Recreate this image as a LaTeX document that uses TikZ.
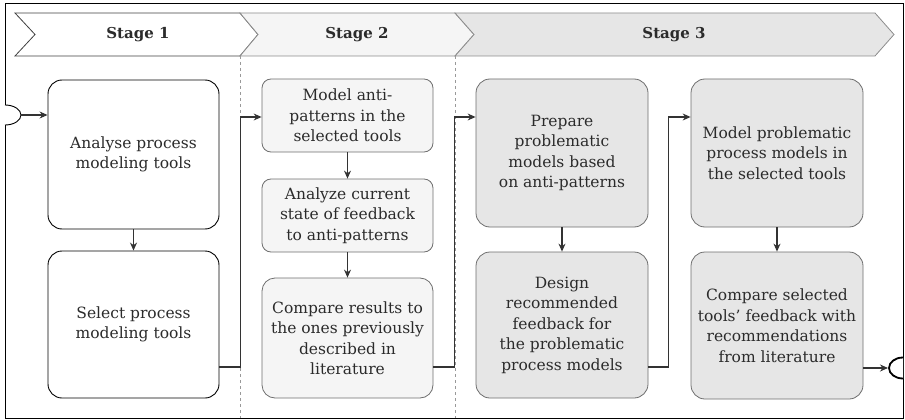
\documentclass[tikz,border=0pt]{standalone}
\usepackage{fontspec}
\setmainfont{DejaVu Serif}
\usetikzlibrary{arrows.meta,calc}
\definecolor{txt}{HTML}{2B2B2B}
\definecolor{fillB}{HTML}{F5F5F5}
\definecolor{fillC}{HTML}{E6E6E6}
\definecolor{strk}{HTML}{6E6E6E}
\tikzset{
  box/.style={rectangle, rounded corners=14pt, align=center, text=txt,
    font=\fontsize{15.5}{20.5}\selectfont, inner sep=2pt},
  box1/.style={box, draw=black, fill=white, line width=0.9pt},
  box2/.style={box, draw=strk, fill=fillB, line width=0.8pt, rounded corners=9pt},
  box3/.style={box, draw=strk, fill=fillC, line width=0.8pt},
  arr/.style={line width=1.1pt, -{Stealth[length=8pt,width=7pt]}},
  conn/.style={arr, draw=black!80},
  chev/.style={line width=0.8pt},
  stagelbl/.style={font=\fontsize{15}{17}\selectfont\bfseries, text=txt},
  sep/.style={draw=black!40, dashed, dash pattern=on 3pt off 3pt, line width=0.6pt}
}
\begin{document}
\begin{tikzpicture}[x=1pt,y=-1pt]
\useasboundingbox (0,0) rectangle (905,420);
% frame
\draw[line width=0.8pt] (5,3) rectangle (903,418);
% chevrons
\draw[chev, draw=black!75, fill=white] (15,13) -- (240,13) -- (258,34.5) -- (240,56) -- (15,56) -- (35,34.5) -- cycle;
\draw[chev, draw=black!45, fill=fillB] (240,13) -- (455,13) -- (474,34.5) -- (455,56) -- (240,56) -- (258,34.5) -- cycle;
\draw[chev, draw=black!45, fill=fillC] (455,13) -- (875,13) -- (894,34.5) -- (875,56) -- (455,56) -- (474,34.5) -- cycle;
\node[stagelbl] (s1) at (138,35) {Stage 1};
\node[stagelbl] (s2) at (357,35) {Stage 2};
\node[stagelbl] (s3) at (674,35) {Stage 3};
% separators
\draw[sep] (240,56) -- (240,418);
\draw[sep] (455,56) -- (455,418);
% boxes
\node[box1, minimum width=171pt, minimum height=149pt] (A) at (133.5,154.5) {Analyse process\\modeling tools};
\node[box1, minimum width=171pt, minimum height=147pt] (B) at (133.5,324.5) {Select process\\modeling tools};
\node[box2, minimum width=171pt, minimum height=73pt] (C) at (347.5,115.5) {Model anti-\\patterns in the\\selected tools};
\node[box2, minimum width=171pt, minimum height=73pt] (D) at (347.5,215.5) {Analyze current\\state of feedback\\to anti-patterns};
\node[box2, rounded corners=13pt, minimum width=171pt, minimum height=120pt] (E) at (347.5,338) {Compare results to\\the ones previously\\described in\\literature};
\node[box3, minimum width=172pt, minimum height=148pt] (F) at (562,153) {Prepare\\problematic\\models based\\on anti-patterns};
\node[box3, minimum width=172pt, minimum height=146pt] (G) at (562,325) {Design\\recommended\\feedback for\\the problematic\\process models};
\node[box3, minimum width=172pt, minimum height=148pt] (H) at (777,153) {Model problematic\\process models in\\the selected tools};
\node[box3, minimum width=172pt, minimum height=147pt] (I) at (777,325.5) {Compare selected\\tools' feedback with\\recommendations\\from literature};
% events
\coordinate (st) at (21,115);
\draw[line width=0.9pt, fill=white] (5,125) arc[start angle=90, end angle=-90, x radius=16, y radius=10];
\coordinate (en) at (888,368);
\draw[line width=1.8pt, fill=white] (903,378.5) arc[start angle=90, end angle=270, x radius=14, y radius=10.5];
% helper rows
\coordinate (ry) at (0,117);
\coordinate (rb) at (0,367);
% connectors
\draw[conn] (st) -- (st -| A.west);
\draw[conn] (A.south) -- (B.north);
\draw[conn] (B.east |- rb) -| ($(C.west |- ry)+(-21,0)$) -- (C.west |- ry);
\draw[conn] (C.south) -- (D.north);
\draw[conn] (D.south) -- (E.north);
\draw[conn] (E.east |- rb) -| ($(F.west |- ry)+(-21,0)$) -- (F.west |- ry);
\draw[conn] (F.south) -- (G.north);
\draw[conn] (G.east |- rb) -| ($(H.west |- ry)+(-22,0)$) -- (H.west |- ry);
\draw[conn] (H.south) -- (I.north);
\draw[conn] (I.east |- en) -- (en);
\end{tikzpicture}
\end{document}
